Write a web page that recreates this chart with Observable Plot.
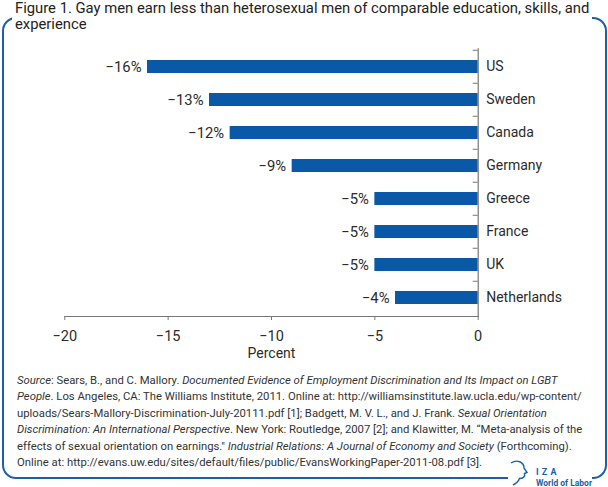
<!DOCTYPE html>
<html>
<head>
<meta charset="utf-8">
<script src="https://cdn.jsdelivr.net/npm/d3@7"></script>
<script src="https://cdn.jsdelivr.net/npm/@observablehq/plot@0.6"></script>
<style>
  html, body { margin: 0; padding: 0; background: #fff; }
  body { width: 608px; height: 487px; position: relative; overflow: hidden; font-family: Roboto, "Liberation Sans", sans-serif; color: #2b2b2b; }
  #frame { position: absolute; left: 2px; top: 17px; width: 605px; height: 462px; box-sizing: border-box; border: 2px solid #1b5fa9; border-radius: 14px; }
  #chart { position: absolute; left: 0; top: 0; }
  #title { position: absolute; left: 12px; top: -0.5px; padding: 0 3px; background: #fff; font-size: 14.8px; line-height: 16.5px; white-space: nowrap; color: #222; }
  #source { position: absolute; left: 17px; top: 373px; font-size: 11.3px; line-height: 16.4px; white-space: nowrap; color: #333; }
  #logo { position: absolute; left: 500px; top: 455px; width: 100px; height: 32px; }
</style>
</head>
<body>
<div id="frame"></div>
<div id="chart"></div>
<div id="title">Figure 1. Gay men earn less than heterosexual men of comparable education, skills, and<br>experience</div>
<div id="source">
<div><i>Source</i>: Sears, B., and C. Mallory. <i>Documented Evidence of Employment Discrimination and Its Impact on LGBT</i></div>
<div><i>People</i>. Los Angeles, CA: The Williams Institute, 2011. Online at: http://williamsinstitute.law.ucla.edu/wp-content/</div>
<div>uploads/Sears-Mallory-Discrimination-July-20111.pdf [1]; Badgett, M. V. L., and J. Frank. <i>Sexual Orientation</i></div>
<div><i>Discrimination: An International Perspective</i>. New York: Routledge, 2007 [2]; and Klawitter, M. “Meta-analysis of the</div>
<div>effects of sexual orientation on earnings." <i>Industrial Relations: A Journal of Economy and Society</i> (Forthcoming).</div>
<div>Online at: http://evans.uw.edu/sites/default/files/public/EvansWorkingPaper-2011-08.pdf [3].</div>
</div>
<svg id="logo" viewBox="0 0 100 32" xmlns="http://www.w3.org/2000/svg">
  <rect x="8" y="15" width="84" height="17" fill="#fff"/>
  <path d="M 11 8 C 17 4, 24 7, 24 13 L 27 17.5 L 24.5 18.5 C 25.5 21.5, 23 23.5, 19.5 23.5 C 18.5 26.5, 16 28.5, 13 30" fill="none" stroke="#1b5fa9" stroke-width="1.4"/>
  <text x="36" y="19.5" font-family="Roboto, sans-serif" font-weight="bold" font-size="9" fill="#1b5fa9" letter-spacing="3.2">IZA</text>
  <text x="36" y="30.5" font-family="Roboto, sans-serif" font-weight="bold" font-size="9" fill="#1b5fa9" textLength="56" lengthAdjust="spacingAndGlyphs">World of Labor</text>
</svg>
<script>
const countries = ["US", "Sweden", "Canada", "Germany", "Greece", "France", "UK", "Netherlands"];
const values = [-16, -13, -12, -9, -5, -5, -5, -4];
const xTicks = [-20, -15, -10, -5, 0];
const axisLabel = "Percent";

const data = countries.map((c, i) => ({country: c, value: values[i]}));
const fmt = v => (v < 0 ? "\u2212" + Math.abs(v) : String(v));

const W = 608, H = 370;
const mTop = 48.3, mBottom = 54, mLeft = 64.3, mRight = 130.3;
const step = (H - mTop - mBottom) / countries.length;
const tickLen = 5 / ((W - mLeft - mRight) / 20);

const chart = Plot.plot({
  width: W,
  height: H,
  marginTop: mTop,
  marginBottom: mBottom,
  marginLeft: mLeft,
  marginRight: mRight,
  style: {background: "transparent", fontFamily: "Roboto, 'Liberation Sans', sans-serif", fontSize: "14px", color: "#2b2b2b"},
  x: {domain: [-20, 0]},
  y: {domain: countries, paddingInner: 0.6, paddingOuter: 0.3, axis: null},
  marks: [
    Plot.barX(data, {x: "value", y: "country", fill: "#0a58a8"}),
    Plot.ruleY(countries, {y: d => d, x1: -tickLen, x2: 0, dy: -step / 2, stroke: "#777", strokeWidth: 1}),
    Plot.ruleX([0], {stroke: "#777", strokeWidth: 1.2}),
    Plot.frame({anchor: "bottom", stroke: "#777", strokeWidth: 1.2}),
    Plot.text(data, {x: "value", y: "country", text: d => fmt(d.value) + "%", textAnchor: "end", dx: -6, fontSize: 14.8, fill: "#2b2b2b"}),
    Plot.text(data, {x: 0, y: "country", text: "country", textAnchor: "start", dx: 8, fontSize: 14, fill: "#2b2b2b"}),
    Plot.axisX({ticks: xTicks, tickSize: 4, tickPadding: 10, tickFormat: fmt, label: null, stroke: "#777", fill: "#2b2b2b", fontSize: 14.5}),
    Plot.text([axisLabel], {x: -10, frameAnchor: "bottom", dy: 41, text: d => d, fontSize: 14, fill: "#2b2b2b"})
  ]
});
document.getElementById("chart").appendChild(chart);
</script>
</body>
</html>
